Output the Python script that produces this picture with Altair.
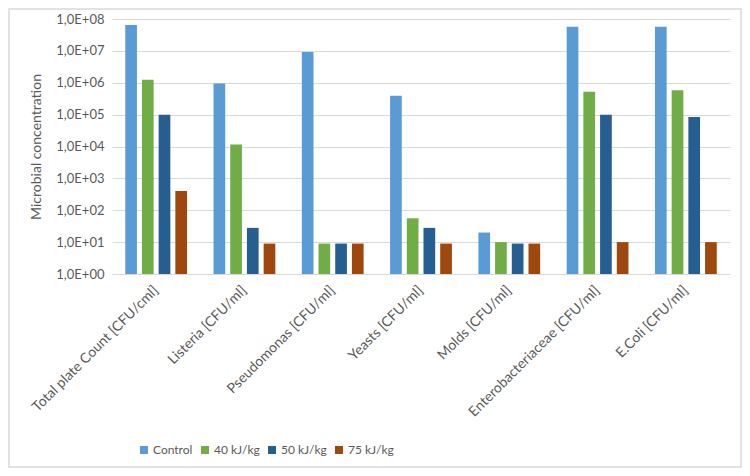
import altair as alt
import pandas as pd

categories = ["Total plate Count [CFU/cml]", "Listeria [CFU/ml]", "Pseudomonas [CFU/ml]",
              "Yeasts [CFU/ml]", "Molds [CFU/ml]", "Enterobacteriaceae [CFU/ml]", "E.Coli [CFU/ml]"]
series = ["Control", "40 kJ/kg", "50 kJ/kg", "75 kJ/kg"]
control = [6.5e7, 9.5e5, 9.2e6, 3.9e5, 20, 5.7e7, 5.7e7]
kj40 = [1.25e6, 1.15e4, 9, 56, 10, 5.2e5, 5.8e5]
kj50 = [1.0e5, 28, 9, 28, 9, 1.0e5, 8.4e4]
kj75 = [4.0e2, 9, 9, 9, 9, 10, 10]
colors = ["#5B9BD5", "#70AD47", "#255E91", "#9E480E"]
yticks = [1, 10, 100, 1e3, 1e4, 1e5, 1e6, 1e7, 1e8]
baseline = 1

rows = []
for s, vals in zip(series, [control, kj40, kj50, kj75]):
    for c, v in zip(categories, vals):
        rows.append({"category": c, "series": s, "value": v, "base": baseline})
df = pd.DataFrame(rows)

FONT = "Lato"
GREY = "#595959"

bars = alt.Chart(df).mark_bar().encode(
    x=alt.X("category:N", sort=categories,
            scale=alt.Scale(paddingInner=0.3, paddingOuter=0.15),
            axis=alt.Axis(title=None, labelAngle=-45, labelAlign="right", labelBaseline="middle",
                          labelFontSize=14, labelColor=GREY, labelFont=FONT, ticks=False,
                          domainColor="#D9D9D9", labelPadding=14, labelLimit=300)),
    xOffset=alt.XOffset("series:N", sort=series, scale=alt.Scale(paddingInner=0.3)),
    y=alt.Y("value:Q", scale=alt.Scale(type="log", domain=[1, 1e8], nice=False),
            axis=alt.Axis(values=yticks, title="Microbial concentration",
                          labelExpr="'1,0E+0' + round(log(datum.value)/LN10)",
                          labelFontSize=13, labelColor=GREY, labelFont=FONT,
                          titleFontSize=14, titleColor=GREY, titleFont=FONT, titleFontWeight="normal",
                          titlePadding=12, ticks=False, domain=False, gridColor="#D9D9D9",
                          labelPadding=8)),
    y2="base:Q",
    color=alt.Color("series:N", sort=series, scale=alt.Scale(domain=series, range=colors),
                    legend=alt.Legend(title=None, orient="none", direction="horizontal",
                                      legendX=26, legendY=425, symbolType="square",
                                      symbolSize=64, labelFontSize=12, labelColor=GREY,
                                      labelFont=FONT, columnPadding=6, labelOffset=3,
                                      symbolStrokeWidth=0)),
)

border = alt.Chart(pd.DataFrame({"a": [0]})).mark_rect(
    fillOpacity=0, stroke="#D9D9D9", strokeWidth=1.5, clip=False
).encode(x=alt.value(-103), x2=alt.value(629), y=alt.value(-10), y2=alt.value(448))

chart = alt.layer(border, bars).properties(
    width=618, height=255,
    padding={"left": 104, "top": 11, "right": 12, "bottom": 194},
    autosize=alt.AutoSizeParams(type="none"),
    background="white",
).configure_view(stroke=None)

chart.save("out.html", embed_options={"renderer": "svg", "actions": False})
